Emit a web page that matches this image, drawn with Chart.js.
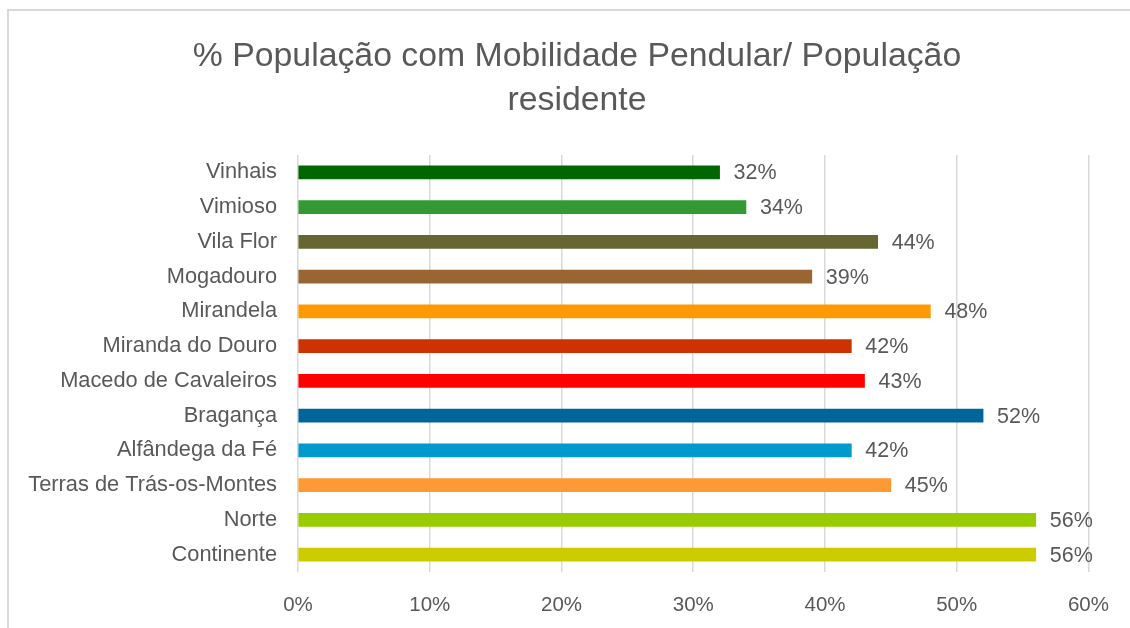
<!DOCTYPE html>
<html>
<head>
<meta charset="utf-8">
<script src="https://cdn.jsdelivr.net/npm/chart.js@4/dist/chart.umd.min.js"></script>
<style>
  html, body { margin: 0; padding: 0; background: #ffffff; }
  #wrap { position: relative; width: 1130px; height: 628px; overflow: hidden; }
  #frame { position: absolute; left: 7px; top: 9px; width: 1140px; height: 640px; border: 2px solid #d9d9d9; box-sizing: border-box; }
  #c { position: absolute; left: 0; top: 0; }
</style>
</head>
<body>
<div id="wrap">
  <div id="frame"></div>
  <canvas id="c" width="1130" height="628"></canvas>
</div>
<script>
const categories = [
  "Vinhais", "Vimioso", "Vila Flor", "Mogadouro", "Mirandela",
  "Miranda do Douro", "Macedo de Cavaleiros", "Bragança",
  "Alfândega da Fé", "Terras de Trás-os-Montes", "Norte", "Continente"
];
const values = [32, 34, 44, 39, 48, 42, 43, 52, 42, 45, 56, 56];
const barColors = [
  "#006600", "#339933", "#666633", "#996633", "#FF9900",
  "#CC3300", "#FF0000", "#006699", "#0099CC", "#FF9933",
  "#99CC00", "#CCCC00"
];
const xTicks = [0, 10, 20, 30, 40, 50, 60];
const titleLines = ["% População com Mobilidade Pendular/ População", "residente"];

const FONT = "'Liberation Sans', Arial, sans-serif";
const TEXT = "#595959";

const titleDraw = {
  id: "titleDraw",
  afterDraw(chart) {
    const ctx = chart.ctx;
    ctx.save();
    ctx.font = "33.8px " + FONT;
    ctx.fillStyle = TEXT;
    ctx.textAlign = "center";
    ctx.textBaseline = "middle";
    titleLines.forEach((t, i) => ctx.fillText(t, 577, 57 + i * 44));
    ctx.restore();
  }
};

const valueLabels = {
  id: "valueLabels",
  afterDatasetsDraw(chart) {
    const ctx = chart.ctx;
    const meta = chart.getDatasetMeta(0);
    ctx.save();
    ctx.font = "21.5px " + FONT;
    ctx.fillStyle = TEXT;
    ctx.textAlign = "left";
    ctx.textBaseline = "middle";
    meta.data.forEach((bar, i) => {
      ctx.fillText(values[i] + "%", bar.x + 14, bar.y + 1);
    });
    ctx.restore();
  }
};

new Chart(document.getElementById("c"), {
  type: "bar",
  data: {
    labels: categories,
    datasets: [{
      data: values,
      backgroundColor: barColors,
      borderWidth: 0,
      barThickness: 13
    }]
  },
  options: {
    indexAxis: "y",
    responsive: false,
    animation: false,
    layout: { padding: { left: 10, right: 38, top: 155, bottom: 0 } },
    plugins: {
      legend: { display: false },
      tooltip: { enabled: false },
      title: { display: false }
    },
    scales: {
      x: {
        min: 0, max: 60,
        afterBuildTicks(scale) { scale.ticks = xTicks.map(v => ({ value: v })); },
        afterFit(scale) { scale.height = 56; },
        grid: { color: "#d9d9d9", lineWidth: 1.5, drawTicks: false },
        border: { display: false },
        ticks: {
          padding: 21,
          color: TEXT,
          font: { family: FONT, size: 20.5 },
          callback: v => v + "%"
        }
      },
      y: {
        afterFit(scale) { scale.width = 288; },
        grid: { display: false, drawTicks: false },
        border: { display: false },
        ticks: {
          padding: 21,
          color: TEXT,
          font: { family: FONT, size: 21.8 }
        }
      }
    }
  },
  plugins: [valueLabels, titleDraw]
});
</script>
</body>
</html>
